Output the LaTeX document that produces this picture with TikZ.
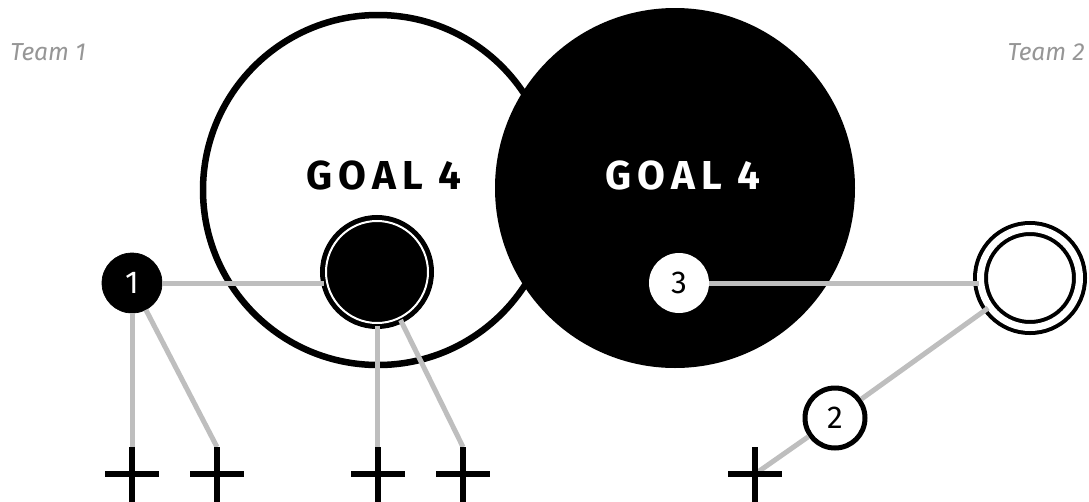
\documentclass[tikz,border=0pt]{standalone}
\usepackage{fontspec}
\setmainfont{Fira Sans}
\newfontfamily\goalfont[LetterSpace=15]{Fira Sans}
\usetikzlibrary{positioning}
\definecolor{LinkGray}{RGB}{190,190,190}
\definecolor{TeamGray}{RGB}{150,150,150}
\tikzset{
  goal/.style={circle,inner sep=0pt,minimum size=7cm,line width=0.13cm},
  goaltext/.style={font=\goalfont\bfseries\fontsize{23}{23}\selectfont},
  player/.style={circle,inner sep=0pt,minimum size=1.2cm,
    font=\fontsize{18}{18}\selectfont},
  target/.style={circle,inner sep=0pt,draw=black,double=white},
  link/.style={draw=LinkGray,line width=0.1cm},
  plus/.style={draw=black,line width=0.13cm},
  team/.style={text=TeamGray,inner sep=0pt,font=\itshape\fontsize{14}{14}\selectfont},
}
\begin{document}
\begin{tikzpicture}
\useasboundingbox (0,0) rectangle (21.78,-10.04);
% the two goal areas
\node[goal,draw=black,fill=white] (home) at (7.56,-3.8) {};
\node[goal,minimum size=7.2cm,fill=black] (away) at (13.5,-3.76) {};
\node[goaltext] (homelabel) at (7.68,-3.5) {GOAL 4};
\node[goaltext,text=white] (awaylabel) at (13.66,-3.5) {GOAL 4};
\node[team,anchor=base west] (team1) at (0.2,-1.2) {Team 1};
\node[team,anchor=base east] (team2) at (21.7,-1.2) {Team 2};
% players and targets
\node[player,draw=black,fill=black,text=white] (p1) at (2.64,-5.66) {1};
\node[target,fill=black,line width=0.1cm,double distance=0.04cm,
  minimum size=2.04cm] (ring) at (7.54,-5.44) {};
\node[player,fill=white] (p3) at (13.58,-5.66) {3};
\node[target,fill=white,line width=0.08cm,double distance=0.14cm,
  minimum size=1.98cm] (ring2) at (20.6,-5.56) {};
\node[player,draw=black,fill=white,line width=0.1cm] (p2) at (16.7,-8.36) {2};
% crosses at the bottom
\coordinate (c1) at (2.64,-9.48);
\coordinate (c2) at (4.34,-9.48);
\coordinate (c3) at (7.56,-9.48);
\coordinate (c4) at (9.26,-9.48);
\coordinate (c5) at (15.1,-9.48);
\coordinate (c1t) at (2.64,-8.94);
\coordinate (c2t) at (4.34,-8.94);
\coordinate (c3t) at (7.56,-8.94);
\coordinate (c4t) at (9.26,-8.94);
% links
\draw[link] (p1) -- (ring.west |- p1);
\draw[link] (p1) -- (p1 |- c1t);
\draw[link] (p1) -- (c2t);
\draw[link] (ring) -- (ring |- c3t);
\draw[link] (ring) -- (c4t);
\draw[link] (p3) -- (ring2.west |- p3);
\draw[link] (ring2) -- (p2);
\draw[link] (p2) -- (c5);
\foreach \c in {c1,c2,c3,c4,c5}
  \draw[plus] (\c) ++(-0.54,0) -- ++(1.08,0) (\c) ++(0,0.54) -- ++(0,-1.2);
\end{tikzpicture}
\end{document}
